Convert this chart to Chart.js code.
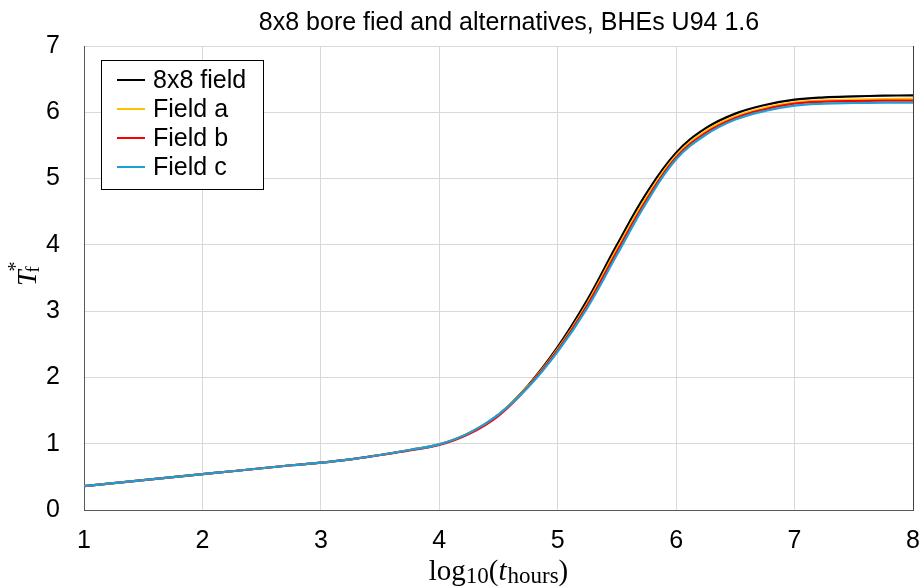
<!DOCTYPE html>
<html>
<head>
<meta charset="utf-8">
<script src="https://cdn.jsdelivr.net/npm/chart.js@4.4.1/dist/chart.umd.min.js"></script>
<style>
  html, body { margin: 0; padding: 0; background: #fff; }
</style>
</head>
<body>
<canvas id="tfChart" width="923" height="588"></canvas>
<script>
// x positions: log10 of time in hours
var logHours = [1, 1.25, 1.5, 1.75, 2, 2.25, 2.5, 2.75, 3, 3.25, 3.5, 3.75, 4, 4.25, 4.5, 4.75,
                5, 5.25, 5.5, 5.75, 6, 6.25, 6.5, 6.75, 7, 7.25, 7.5, 7.75, 8];

var field8x8 = [0.36, 0.405, 0.45, 0.495, 0.54, 0.585, 0.63, 0.675, 0.715, 0.765, 0.83, 0.905, 0.99, 1.16, 1.44, 1.88,
                2.46, 3.17, 4.00, 4.78, 5.39, 5.76, 5.98, 6.11, 6.19, 6.225, 6.24, 6.25, 6.255];
var fieldA   = [0.36, 0.405, 0.45, 0.495, 0.54, 0.585, 0.63, 0.675, 0.715, 0.765, 0.83, 0.905, 0.99, 1.16, 1.44, 1.87,
                2.43, 3.12, 3.94, 4.72, 5.35, 5.72, 5.94, 6.07, 6.15, 6.18, 6.19, 6.20, 6.205];
var fieldB   = [0.36, 0.405, 0.45, 0.495, 0.54, 0.585, 0.63, 0.675, 0.715, 0.765, 0.83, 0.90, 0.98, 1.145, 1.42, 1.86,
                2.41, 3.09, 3.90, 4.68, 5.32, 5.69, 5.915, 6.045, 6.13, 6.16, 6.17, 6.175, 6.175];
var fieldC   = [0.36, 0.405, 0.45, 0.495, 0.54, 0.585, 0.63, 0.675, 0.715, 0.765, 0.83, 0.905, 0.99, 1.16, 1.44, 1.85,
                2.39, 3.05, 3.85, 4.64, 5.29, 5.66, 5.89, 6.02, 6.10, 6.13, 6.14, 6.145, 6.145];

var seriesNames = ['8x8 field', 'Field a', 'Field b', 'Field c'];
var seriesColors = ['#000000', '#FFC000', '#FF0000', '#1E9FD8'];

var xTicks = [1, 2, 3, 4, 5, 6, 7, 8];
var yTicks = [0, 1, 2, 3, 4, 5, 6, 7];

var chartTitle = '8x8 bore fied and alternatives, BHEs U94 1.6';

var sansFont = "'Liberation Sans', Arial, sans-serif";
var serifFont = "'Liberation Serif', 'Times New Roman', serif";
var textSize = 25;

function toPoints(ys) {
    return logHours.map(function(x, i) { return { x: x, y: ys[i] }; });
}

// draws a list of text runs (for sub/superscripts) starting at x, baseline y
function drawRuns(ctx, runs, x, y) {
    var cx = x;
    runs.forEach(function(r) {
        ctx.font = r.font;
        ctx.fillText(r.text, cx, y + (r.dy || 0));
        cx += ctx.measureText(r.text).width + (r.kern || 0);
    });
}
function runsWidth(ctx, runs) {
    var w = 0;
    runs.forEach(function(r) {
        ctx.font = r.font;
        w += ctx.measureText(r.text).width + (r.kern || 0);
    });
    return w;
}

var decorPlugin = {
    id: 'decor',
    afterDraw: function(chart) {
        var ctx = chart.ctx;
        var area = chart.chartArea;
        ctx.save();

        // right border of plot
        ctx.strokeStyle = '#404040';
        ctx.lineWidth = 1;
        ctx.beginPath();
        ctx.moveTo(Math.round(area.right) + 0.5, area.top);
        ctx.lineTo(Math.round(area.right) + 0.5, area.bottom);
        ctx.stroke();

        // title
        ctx.fillStyle = '#000';
        ctx.font = textSize + 'px ' + sansFont;
        ctx.textAlign = 'center';
        ctx.textBaseline = 'middle';
        ctx.fillText(chartTitle, 509, 23);

        // legend
        var lx = 101.5, ly = 60.5, lw = 162, lh = 129;
        ctx.fillStyle = '#fff';
        ctx.fillRect(lx, ly, lw, lh);
        ctx.strokeStyle = '#000';
        ctx.strokeRect(lx, ly, lw, lh);
        ctx.textAlign = 'left';
        ctx.textBaseline = 'middle';
        ctx.font = textSize + 'px ' + sansFont;
        chart.data.datasets.forEach(function(ds, i) {
            var rowY = 80 + i * 29;
            ctx.strokeStyle = ds.borderColor;
            ctx.lineWidth = 2;
            ctx.beginPath();
            ctx.moveTo(117, rowY);
            ctx.lineTo(145, rowY);
            ctx.stroke();
            ctx.fillStyle = '#000';
            ctx.fillText(ds.label, 153, rowY + 1);
        });

        // x axis title: log10(t_hours)
        ctx.textBaseline = 'alphabetic';
        ctx.fillStyle = '#000';
        var xRuns = [
            { text: 'log', font: '29px ' + serifFont },
            { text: '10', font: '23px ' + serifFont, dy: 3 },
            { text: '(', font: '29px ' + serifFont },
            { text: 't', font: 'italic 29px ' + serifFont, kern: 1 },
            { text: 'hours', font: '23px ' + serifFont, dy: 3 },
            { text: ')', font: '29px ' + serifFont }
        ];
        var xw = runsWidth(ctx, xRuns);
        drawRuns(ctx, xRuns, (area.left + area.right) / 2 - xw / 2, 580);

        // y axis title: T_f^*
        ctx.save();
        ctx.translate(36, 278);
        ctx.rotate(-Math.PI / 2);
        ctx.font = 'italic 28px ' + serifFont;
        var tW = ctx.measureText('T').width;
        var startX = -8;
        ctx.fillText('T', startX, 0);
        ctx.font = '19px ' + serifFont;
        ctx.fillText('f', startX + tW - 2, 3);
        ctx.font = '20px ' + serifFont;
        ctx.fillText('*', startX + tW - 1, -14);
        ctx.restore();

        ctx.restore();
    }
};

var ctx = document.getElementById('tfChart');
var datasets = [field8x8, fieldA, fieldB, fieldC].map(function(vals, i) {
    return {
        label: seriesNames[i],
        data: toPoints(vals),
        borderColor: seriesColors[i],
        backgroundColor: seriesColors[i],
        borderWidth: 2.2,
        pointRadius: 0,
        fill: false,
        tension: 0.4,
        order: 4 - i
    };
});

var myChart = new Chart(ctx, {
    type: 'line',
    data: { datasets: datasets },
    options: {
        responsive: false,
        animation: false,
        devicePixelRatio: 1,
        layout: { padding: { top: 46, right: 10, left: 0, bottom: 0 } },
        plugins: {
            legend: { display: false },
            title: { display: false },
            tooltip: { enabled: false }
        },
        scales: {
            x: {
                type: 'linear',
                min: xTicks[0],
                max: xTicks[xTicks.length - 1],
                afterBuildTicks: function(scale) {
                    scale.ticks = xTicks.map(function(v) { return { value: v }; });
                },
                afterFit: function(scale) {
                    scale.height = 78;
                    scale.paddingLeft = 0;
                    scale.paddingRight = 0;
                },
                ticks: {
                    color: '#000',
                    font: { family: sansFont, size: textSize },
                    padding: 16,
                    maxRotation: 0
                },
                grid: { color: '#d9d9d9', drawTicks: false },
                border: { color: '#595959', width: 1 }
            },
            y: {
                min: yTicks[0],
                max: yTicks[yTicks.length - 1],
                afterBuildTicks: function(scale) {
                    scale.ticks = yTicks.map(function(v) { return { value: v }; });
                },
                afterFit: function(scale) {
                    scale.width = 84;
                    scale.paddingTop = 0;
                    scale.paddingBottom = 0;
                },
                ticks: {
                    color: '#000',
                    font: { family: sansFont, size: textSize },
                    padding: 24
                },
                grid: { color: '#d9d9d9', drawTicks: false },
                border: { color: '#595959', width: 1 }
            }
        }
    },
    plugins: [decorPlugin]
});
</script>
</body>
</html>
